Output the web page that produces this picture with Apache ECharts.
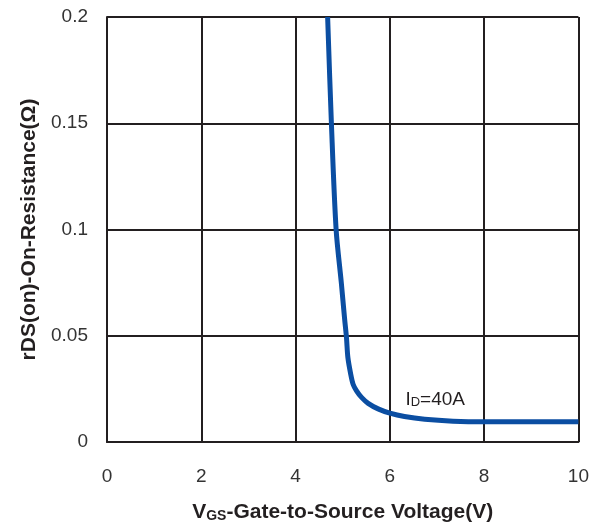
<!DOCTYPE html>
<html>
<head>
<meta charset="utf-8">
<script src="https://cdn.jsdelivr.net/npm/echarts@6/dist/echarts.min.js"></script>
<style>
  html, body { margin: 0; padding: 0; background: #fff; }
  #chart { width: 592px; height: 528px; }
</style>
</head>
<body>
<div id="chart"></div>
<script>
// Vgs (V) vs rDS(on) (ohm), ID = 40A
var vgs = [4.68, 4.76, 4.86, 4.97, 5.04, 5.08, 5.11, 5.17, 5.22, 5.29, 5.40, 5.54, 5.75, 6.0, 6.31, 6.74, 7.34, 8, 9, 10];
var rds = [0.2, 0.15, 0.1, 0.075, 0.058, 0.049, 0.0397, 0.0319, 0.0272, 0.0242, 0.021, 0.0182, 0.0156, 0.0136, 0.012, 0.0107, 0.0098, 0.0095, 0.0095, 0.0095];
var yTicks = ['0', '0.05', '0.1', '0.15', '0.2'];
var labelPos = [6.33, 0.0201];

var points = [];
for (var i = 0; i < vgs.length; i++) {
  points.push([vgs[i], rds[i]]);
}

var chart = echarts.init(document.getElementById('chart'));
var ink = '#231f20';

var option = {
  animation: false,
  grid: { left: 107, right: 13, top: 17, bottom: 83 },
  xAxis: {
    type: 'value',
    min: 0, max: 10, interval: 2,
    axisLine: { show: true, lineStyle: { color: ink, width: 2 } },
    axisTick: { show: false },
    splitLine: { show: true, lineStyle: { color: ink, width: 2 } },
    axisLabel: { color: '#333', fontSize: 19, fontFamily: 'Liberation Sans', margin: 25 },
    name: '{a|V}{b|GS}{a|-Gate-to-Source Voltage(V)}',
    nameLocation: 'middle',
    nameGap: 60,
    nameTextStyle: {
      rich: {
        a: { fontSize: 21, fontWeight: 'bold', color: ink, fontFamily: 'Liberation Sans' },
        b: { fontSize: 14, fontWeight: 'bold', color: ink, fontFamily: 'Liberation Sans', padding: [7, 0, 0, 0] }
      }
    }
  },
  yAxis: {
    type: 'value',
    min: 0, max: 0.2, interval: 0.05,
    axisLine: { show: true, lineStyle: { color: ink, width: 2 } },
    axisTick: { show: false },
    splitLine: { show: true, lineStyle: { color: ink, width: 2 } },
    axisLabel: {
      color: '#333', fontSize: 19, fontFamily: 'Liberation Sans', margin: 19,
      formatter: function (v) { return yTicks[Math.round(v / 0.05)]; }
    },
    name: 'rDS(on)-On-Resistance(\u03A9)',
    nameLocation: 'middle',
    nameGap: 63,
    nameTextStyle: { fontSize: 21, fontWeight: 'bold', color: ink, fontFamily: 'Liberation Sans' }
  },
  series: [
    {
      type: 'line',
      data: points,
      smooth: 0.3,
      symbol: 'none',
      lineStyle: { color: '#0b4ea2', width: 5 },
      markPoint: {
        symbol: 'circle',
        symbolSize: 0,
        data: [{ coord: labelPos }],
        label: {
          show: true,
          position: 'right',
          distance: 0,
          formatter: '{a|I}{b|D}{a|=40A}',
          rich: {
            a: { fontSize: 19, color: ink, fontFamily: 'Liberation Sans' },
            b: { fontSize: 13, color: ink, fontFamily: 'Liberation Sans', padding: [6, 0, 0, 0] }
          }
        }
      }
    }
  ]
};

chart.setOption(option);
</script>
</body>
</html>
